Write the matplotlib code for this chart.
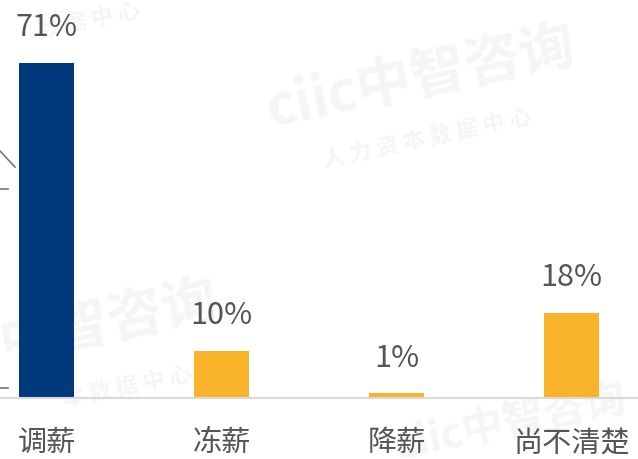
import matplotlib
matplotlib.use("Agg")
import matplotlib.pyplot as plt
from matplotlib.lines import Line2D

plt.rcParams['font.family'] = ['Noto Sans CJK SC', 'DejaVu Sans']

categories = ["调薪", "冻薪", "降薪", "尚不清楚"]
values = [71, 10, 1, 18]
colors = ["#003A7D", "#F8B32B", "#F8B32B", "#F8B32B"]

fig = plt.figure(figsize=(6.38, 4.6), dpi=100)
ax = fig.add_axes([0, 61 / 460, 1, 399 / 460])
ax.set_facecolor("none")

# faint watermark, kept behind everything
wm = dict(color="#F5F5F8", fontweight="bold", ha="center", va="center")
fig.text(0.66, 0.83, "ciic中智咨询", fontsize=40, rotation=12, **wm)
fig.text(0.67, 0.70, "人 力 资 本 数 据 中 心", fontsize=16, rotation=12, **wm)
fig.text(0.17, 0.30, "中智咨询", fontsize=40, rotation=12, **wm)
fig.text(0.20, 0.16, "本 数 据 中 心", fontsize=16, rotation=12, **wm)
fig.text(0.14, 0.955, "数 据 中 心", fontsize=16, rotation=12, **wm)
fig.text(0.80, 0.08, "ciic中智咨询", fontsize=30, rotation=12, **wm)
for t in fig.texts:
    t.set_zorder(-1)

x = list(range(len(categories)))
ax.bar(x, values, width=0.314, color=colors, zorder=2)

for xi, v in zip(x, values):
    ax.text(xi, v + 4.4, f"{v}%", ha="center", va="bottom",
            fontsize=22, color="#555555", fontweight="light", zorder=3)

ax.set_xlim(-46.5 / 175, (638 - 46.5) / 175)
ax.set_ylim(0, 399 / 4.72)
ax.set_xticks(x)
ax.set_xticklabels(categories, fontsize=21, color="#555555", fontweight="light")
ax.tick_params(axis="x", length=0, pad=21)
ax.set_yticks([])
for s in ["top", "right", "left"]:
    ax.spines[s].set_visible(False)
ax.spines["bottom"].set_color("#D9D9D9")
ax.spines["bottom"].set_linewidth(1.5)

# cropped fragments at the left edge
fig.add_artist(Line2D([0, 15 / 638], [1 - 152 / 460, 1 - 168 / 460], color="#777777", lw=1.2))
fig.add_artist(Line2D([0, 8 / 638], [1 - 190 / 460, 1 - 190 / 460], color="#777777", lw=1.2))
fig.add_artist(Line2D([0, 8 / 638], [1 - 389 / 460, 1 - 389 / 460], color="#777777", lw=1.2))

fig.savefig("out.png", dpi=100)
